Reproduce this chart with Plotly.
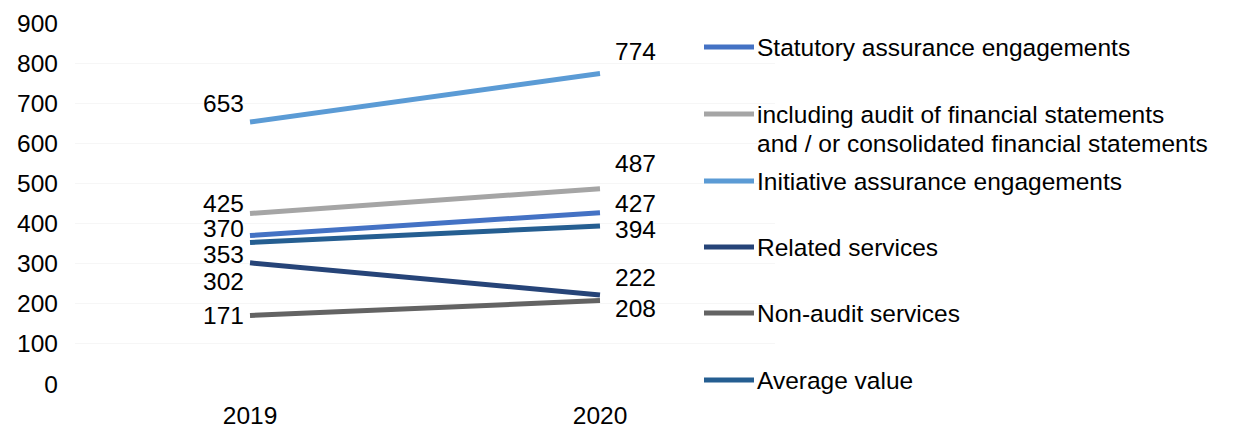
import plotly.graph_objects as go

# Engagement counts by year
years = ["2019", "2020"]
series_names = [
    "Statutory assurance engagements",
    "including audit of financial statements<br>and / or consolidated financial statements",
    "Initiative assurance engagements",
    "Related services",
    "Non-audit services",
    "Average value",
]
statutory = [370, 427]
including_audit = [425, 487]
initiative = [653, 774]
related = [302, 222]
non_audit = [171, 208]
average = [353, 394]

values = [statutory, including_audit, initiative, related, non_audit, average]
colors = ["#4472C4", "#A5A5A5", "#5B9BD5", "#264478", "#636363", "#255E91"]

# Vertical nudges (px, positive = up) for the value labels, to keep them apart
label_shift_2019 = [7, 10, 19, -19, 0, -12]
label_shift_2020 = [9, 25, 22, 17, -8, -4]

FONT = "Liberation Sans, Arial, sans-serif"
FS = 24.5
W, H = 1257, 429
ML, MR, MT, MB = 75, 482, 23, 45
PW, PH = W - ML - MR, H - MT - MB


def px_to_paper(px, py):
    return (px - ML) / PW, (H - MB - py) / PH


fig = go.Figure()
for name, vals, col in zip(series_names, values, colors):
    fig.add_trace(go.Scatter(
        x=years, y=vals, mode="lines", name=name,
        line=dict(color=col, width=5), showlegend=False,
        hoverinfo="skip",
    ))

annotations = []
for vals, s19, s20 in zip(values, label_shift_2019, label_shift_2020):
    annotations.append(dict(
        x=0, y=vals[0], xref="x", yref="y", text=str(vals[0]),
        showarrow=False, xanchor="right", yanchor="middle",
        xshift=-4, yshift=s19, font=dict(family=FONT, size=FS, color="#000000"),
    ))
    annotations.append(dict(
        x=1, y=vals[1], xref="x", yref="y", text=str(vals[1]),
        showarrow=False, xanchor="left", yanchor="middle",
        xshift=13, yshift=s20, font=dict(family=FONT, size=FS, color="#000000"),
    ))

# Legend drawn as line swatches plus text, one row per series
legend_rows_y = [47, 114, 181, 247, 313, 380]
shapes = []
for name, col, ry in zip(series_names, colors, legend_rows_y):
    x0, y0 = px_to_paper(704, ry)
    x1, _ = px_to_paper(754, ry)
    shapes.append(dict(type="line", xref="paper", yref="paper",
                       x0=x0, x1=x1, y0=y0, y1=y0,
                       line=dict(color=col, width=5)))
    lines = name.split("<br>")
    for i, line_text in enumerate(lines):
        tx, ty = px_to_paper(755, ry + i * 29)
        annotations.append(dict(
            x=tx, y=ty, xref="paper", yref="paper", text=line_text,
            showarrow=False, xanchor="left", yanchor="middle",
            font=dict(family=FONT, size=FS, color="#000000"),
        ))

fig.update_layout(
    width=W, height=H,
    margin=dict(l=ML, r=MR, t=MT, b=MB, autoexpand=False),
    paper_bgcolor="white", plot_bgcolor="white",
    font=dict(family=FONT, size=FS, color="#000000"),
    annotations=annotations, shapes=shapes,
    showlegend=False,
)
fig.update_xaxes(
    type="category", range=[-0.5, 1.5], showgrid=False, zeroline=False,
    showline=False, ticks="", ticklabelstandoff=14, automargin=False,
    tickfont=dict(family=FONT, size=FS, color="#000000"),
)
fig.update_yaxes(
    range=[0, 900], dtick=100, tick0=0, showgrid=True, gridcolor="#F6F6F6",
    gridwidth=1, zeroline=False, showline=False, ticks="",
    ticklabelstandoff=16, automargin=False,
    tickfont=dict(family=FONT, size=FS, color="#000000"),
)

fig.write_html("out.html")
